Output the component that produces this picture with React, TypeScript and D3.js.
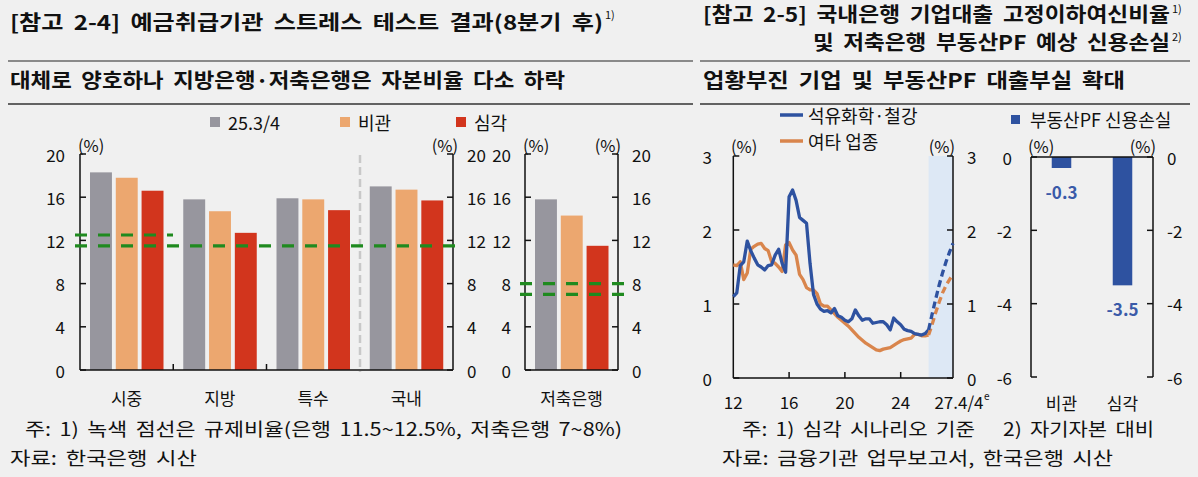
import React from 'react';
import * as d3 from 'd3';

// ---- data: [참고 2-4] 스트레스 테스트 ----
const bankCats = ['시중', '지방', '특수', '국내'];
const seriesKeys = ['25.3/4', '비관', '심각'];
const bankBase = [18.3, 15.8, 15.9, 17.0];
const bankPess = [17.8, 14.7, 15.8, 16.7];
const bankSevere = [16.6, 12.7, 14.8, 15.7];
const savingsCats = ['저축은행'];
const savingsBase = [15.8];
const savingsPess = [14.3];
const savingsSevere = [11.5];
const bankReg = [11.5, 12.5];
const savingsReg = [7, 8];
const barTicks = [0, 4, 8, 12, 16, 20];

// ---- data: [참고 2-5] 고정이하여신비율 (quarterly, 12.1/4 ~) ----
const petroSteel = [
  1.10, 1.15, 1.52, 1.57, 1.85, 1.72, 1.62, 1.53, 1.50, 1.46, 1.52, 1.53, 1.66, 1.74, 1.55, 1.43,
  2.45, 2.54, 2.40, 2.17, 2.13, 2.09, 1.55, 1.13, 1.00, 0.93, 0.90, 0.91, 0.88, 0.94, 0.84, 0.82,
  0.78, 0.76, 0.80, 0.92, 0.84, 0.78, 0.80, 0.80, 0.74, 0.75, 0.76, 0.76, 0.72, 0.65, 0.81, 0.76,
  0.72, 0.66, 0.64, 0.63, 0.60, 0.59, 0.58, 0.60, 0.65,
];
const otherInd = [
  1.53, 1.52, 1.57, 1.33, 1.42, 1.74, 1.78, 1.81, 1.82, 1.75, 1.72, 1.57, 1.55, 1.50, 1.44, 1.80,
  1.83, 1.73, 1.66, 1.40, 1.33, 1.22, 1.19, 1.19, 1.14, 1.00, 0.97, 0.97, 0.92, 0.87, 0.82, 0.78,
  0.74, 0.70, 0.65, 0.60, 0.55, 0.51, 0.47, 0.44, 0.41, 0.38, 0.37, 0.39, 0.40, 0.41, 0.44, 0.47,
  0.50, 0.52, 0.53, 0.54, 0.59, 0.59, 0.57, 0.57, 0.58,
];
const petroSteelProj = [0.65, 0.86, 1.06, 1.25, 1.42, 1.57, 1.70, 1.82];
const otherIndProj = [0.58, 0.72, 0.88, 1.02, 1.15, 1.25, 1.33, 1.40];
const lineXTickIdx = [0, 16, 32, 48, 63];
const lineXTickLabels = ['12', '16', '20', '24', '27.4/4'];
const lineYTicks = [0, 1, 2, 3];

// ---- data: 부동산PF 신용손실 ----
const pfCats = ['비관', '심각'];
const pfVals = [-0.3, -3.5];
const pfTicks = [0, -2, -4, -6];

const FONT = '"Noto Sans CJK KR", "Noto Sans", sans-serif';
const BG = '#f0f0f0';
const colors = ['#97969e', '#eca76f', '#d2351d'];
const GREEN = '#1f8a1f';
const BLUE = '#2e52a0';
const ORANGE = '#d9854c';
const FS = 17;
const LFS = 18;

const T = (p: any) => <text fontFamily={FONT} fill="#111" {...p} />;
// heading / note text: wide word gaps, width fitted to the reference
const H = (p: any) => <T fontWeight="bold" fontSize={20} wordSpacing={4} lengthAdjust="spacingAndGlyphs" {...p} />;
const N = (p: any) => <T fontSize={18} wordSpacing={3} lengthAdjust="spacingAndGlyphs" dominantBaseline="central" {...p} />;

export default function App() {
  // left bar charts
  const yBar = d3.scaleLinear().domain([0, 20]).range([370, 154]);
  const xBank = d3.scaleBand().domain(bankCats).range([80, 453]);
  const xSav = d3.scaleBand().domain(savingsCats).range([525, 618]);
  const xInner = d3.scaleBand().domain(seriesKeys).range([10, 83.5]).paddingInner(0.15);
  const bankRows = [bankBase, bankPess, bankSevere];
  const savRows = [savingsBase, savingsPess, savingsSevere];

  // line chart
  const xLine = d3.scaleLinear().domain([0, 63]).range([733.3, 953]);
  const yLine = d3.scaleLinear().domain([0, 3]).range([378, 156]);
  const line = d3.line<number>().x((_, i) => xLine(i)).y((d) => yLine(d));
  const projStart = petroSteel.length - 1;
  const lineProj = d3.line<number>().x((_, i) => xLine(projStart + i)).y((d) => yLine(d));

  // PF chart
  const yPf = d3.scaleLinear().domain([-6, 0]).range([377, 157]);
  const xPf = d3.scaleBand().domain(pfCats).range([1031, 1153]).paddingInner(0.68).paddingOuter(0.34);

  const axisFrame = (x0: number, x1: number, y: d3.ScaleLinear<number, number>, ticks: number[], bottom: number, top: number) => (
    <g stroke="#111" strokeWidth={1.5} fill="none">
      <line x1={x0} x2={x0} y1={top} y2={bottom} />
      <line x1={x1} x2={x1} y1={top} y2={bottom} />
      {ticks.map((t) => (
        <g key={t}>
          <line x1={x0} x2={x0 + 6} y1={y(t)} y2={y(t)} />
          <line x1={x1 - 6} x2={x1} y1={y(t)} y2={y(t)} />
        </g>
      ))}
    </g>
  );

  return (
    <svg width={1198} height={477} style={{ position: 'absolute', left: 0, top: 0 }}>
      <rect width={1198} height={477} fill={BG} />

      {/* headers */}
      <H x={10} y={30} textLength={593}>[참고 2-4] 예금취급기관 스트레스 테스트 결과(8분기 후)</H>
      <T x={605} y={19} fontSize={11}>1)</T>
      <line x1={8} x2={693} y1={61} y2={61} stroke="#8a8a8a" strokeWidth={2} />
      <H x={10} y={88} textLength={555}>대체로 양호하나 지방은행·저축은행은 자본비율 다소 하락</H>
      <line x1={8} x2={693} y1={104} y2={104} stroke="#333" strokeWidth={1.5} />

      <H x={703} y={22} textLength={467}>[참고 2-5] 국내은행 기업대출 고정이하여신비율</H>
      <T x={1172} y={13} fontSize={11}>1)</T>
      <H x={813} y={50} textLength={357}>및 저축은행 부동산PF 예상 신용손실</H>
      <T x={1172} y={41} fontSize={11}>2)</T>
      <line x1={700} x2={1190} y1={61} y2={61} stroke="#8a8a8a" strokeWidth={2} />
      <H x={703} y={88} textLength={422}>업황부진 기업 및 부동산PF 대출부실 확대</H>
      <line x1={700} x2={1190} y1={104} y2={104} stroke="#333" strokeWidth={1.5} />

      {/* left legend */}
      {seriesKeys.map((k, i) => {
        const lx = [210, 340, 456][i];
        return (
          <g key={k}>
            <rect x={lx} y={117} width={10} height={10} fill={colors[i]} />
            <T x={lx + 18} y={122} fontSize={LFS} dominantBaseline="central">{k}</T>
          </g>
        );
      })}

      {/* bank bars */}
      {bankCats.map((c, ci) =>
        seriesKeys.map((k, si) => (
          <rect key={c + k} x={xBank(c)! + xInner(k)!} width={xInner.bandwidth()} y={yBar(bankRows[si][ci])}
            height={yBar(0) - yBar(bankRows[si][ci])} fill={colors[si]} />
        ))
      )}
      <line x1={360} x2={360} y1={155} y2={372} stroke="#c8c8c8" strokeWidth={2.5} strokeDasharray="8 4" />
      {axisFrame(80, 453, yBar, barTicks, 370, 154)}
      <line x1={80} x2={453} y1={370} y2={370} stroke="#111" strokeWidth={1.5} />
      {[xBank('지방')!, xBank('특수')!].map((x) => (
        <line key={x} x1={x} x2={x} y1={370} y2={364} stroke="#111" strokeWidth={1.5} />
      ))}
      <line x1={75} x2={173} y1={yBar(bankReg[1])} y2={yBar(bankReg[1])} stroke={GREEN} strokeWidth={3.2} strokeDasharray="12 11" />
      <line x1={75} x2={456} y1={yBar(bankReg[0])} y2={yBar(bankReg[0])} stroke={GREEN} strokeWidth={3.2} strokeDasharray="12 11" />
      {barTicks.map((t) => (
        <g key={t}>
          <T x={65} y={yBar(t)} fontSize={FS} textAnchor="end" dominantBaseline="central">{t}</T>
          <T x={467} y={yBar(t)} fontSize={FS} dominantBaseline="central">{t}</T>
          <T x={511} y={yBar(t)} fontSize={FS} textAnchor="end" dominantBaseline="central">{t}</T>
          <T x={632} y={yBar(t)} fontSize={FS} dominantBaseline="central">{t}</T>
        </g>
      ))}
      <T x={78} y={145} fontSize={16.5} dominantBaseline="central">(%)</T>
      <T x={458} y={145} fontSize={16.5} textAnchor="end" dominantBaseline="central">(%)</T>
      {bankCats.map((c) => (
        <T key={c} x={xBank(c)! + xBank.bandwidth() / 2} y={397} fontSize={FS} textAnchor="middle" dominantBaseline="central">{c}</T>
      ))}

      {/* savings bars */}
      {savingsCats.map((c, ci) =>
        seriesKeys.map((k, si) => (
          <rect key={c + k} x={xSav(c)! + xInner(k)!} width={xInner.bandwidth()} y={yBar(savRows[si][ci])}
            height={yBar(0) - yBar(savRows[si][ci])} fill={colors[si]} />
        ))
      )}
      {axisFrame(525, 618, yBar, barTicks, 370, 154)}
      <line x1={525} x2={618} y1={370} y2={370} stroke="#111" strokeWidth={1.5} />
      {savingsReg.map((r) => (
        <line key={r} x1={520} x2={624} y1={yBar(r)} y2={yBar(r)} stroke={GREEN} strokeWidth={3.2} strokeDasharray="12 11" />
      ))}
      <T x={523} y={145} fontSize={16.5} dominantBaseline="central">(%)</T>
      <T x={621} y={145} fontSize={16.5} textAnchor="end" dominantBaseline="central">(%)</T>
      <T x={571.5} y={397} fontSize={FS} textAnchor="middle" dominantBaseline="central">{savingsCats[0]}</T>

      {/* line chart */}
      <rect x={xLine(projStart)} y={156} width={953 - xLine(projStart)} height={222} fill="#dde8f5" />
      {axisFrame(733.3, 953, yLine, lineYTicks, 378, 156)}
      <line x1={733.3} x2={953} y1={378} y2={378} stroke="#111" strokeWidth={1.5} />
      {lineXTickIdx.slice(1, 4).map((i) => (
        <line key={i} x1={xLine(i)} x2={xLine(i)} y1={378} y2={372} stroke="#111" strokeWidth={1.5} />
      ))}
      <path d={line(otherInd)!} fill="none" stroke={ORANGE} strokeWidth={3.3} strokeLinejoin="round" />
      <path d={line(petroSteel)!} fill="none" stroke={BLUE} strokeWidth={3.3} strokeLinejoin="round" />
      <path d={lineProj(otherIndProj)!} fill="none" stroke={ORANGE} strokeWidth={3.3} strokeDasharray="7 4" />
      <path d={lineProj(petroSteelProj)!} fill="none" stroke={BLUE} strokeWidth={3.3} strokeDasharray="7 4" />
      {lineYTicks.map((t) => (
        <g key={t}>
          <T x={712} y={yLine(t)} fontSize={FS} textAnchor="end" dominantBaseline="central">{t}</T>
          <T x={967} y={yLine(t)} fontSize={FS} dominantBaseline="central">{t}</T>
        </g>
      ))}
      {lineXTickIdx.map((i, k) => (
        <T key={i} x={xLine(i) + (k === 4 ? 6 : 0)} y={401} fontSize={FS} textAnchor="middle" dominantBaseline="central">{lineXTickLabels[k]}</T>
      ))}
      <T x={xLine(63) + 31} y={400} fontSize={10}>e</T>
      <T x={731} y={146} fontSize={16.5} dominantBaseline="central">(%)</T>
      <T x={955} y={146} fontSize={16.5} textAnchor="end" dominantBaseline="central">(%)</T>
      <line x1={780} x2={803} y1={115} y2={115} stroke={BLUE} strokeWidth={3.5} />
      <T x={808} y={115} fontSize={LFS} dominantBaseline="central">석유화학·철강</T>
      <line x1={780} x2={803} y1={141} y2={141} stroke={ORANGE} strokeWidth={3.5} />
      <T x={808} y={141} fontSize={LFS} dominantBaseline="central">여타 업종</T>

      {/* PF chart */}
      {pfCats.map((c, i) => (
        <g key={c}>
          <rect x={xPf(c)} width={xPf.bandwidth()} y={yPf(0)} height={yPf(pfVals[i]) - yPf(0)} fill={BLUE} />
          <T x={xPf(c)! + xPf.bandwidth() / 2} y={yPf(pfVals[i]) + 23} fontSize={FS} fontWeight={600} fill="#3a5aa8"
            textAnchor="middle" dominantBaseline="central">{pfVals[i].toFixed(1)}</T>
          <T x={xPf(c)! + xPf.bandwidth() / 2} y={402} fontSize={FS} textAnchor="middle" dominantBaseline="central">{c}</T>
        </g>
      ))}
      {axisFrame(1031, 1153, yPf, pfTicks, 377, 157)}
      <line x1={1031} x2={1153} y1={157} y2={157} stroke="#111" strokeWidth={1.5} />
      {pfTicks.map((t) => (
        <g key={t}>
          <T x={1012} y={yPf(t)} fontSize={FS} textAnchor="end" dominantBaseline="central">{t}</T>
          <T x={1167} y={yPf(t)} fontSize={FS} dominantBaseline="central">{t}</T>
        </g>
      ))}
      <T x={1028} y={146} fontSize={16.5} dominantBaseline="central">(%)</T>
      <T x={1156} y={146} fontSize={16.5} textAnchor="end" dominantBaseline="central">(%)</T>
      <rect x={1011} y={115} width={9} height={9} fill={BLUE} />
      <T x={1030} y={119} fontSize={LFS} dominantBaseline="central">부동산PF 신용손실</T>

      {/* notes */}
      <N x={25} y={428} textLength={597}>주: 1) 녹색 점선은 규제비율(은행 11.5~12.5%, 저축은행 7~8%)</N>
      <N x={10} y={457} textLength={187}>자료: 한국은행 시산</N>
      <N x={742} y={428} textLength={233}>주: 1) 심각 시나리오 기준</N>
      <N x={1003} y={428} textLength={151}>2) 자기자본 대비</N>
      <N x={722} y={457} textLength={391}>자료: 금융기관 업무보고서, 한국은행 시산</N>
    </svg>
  );
}
